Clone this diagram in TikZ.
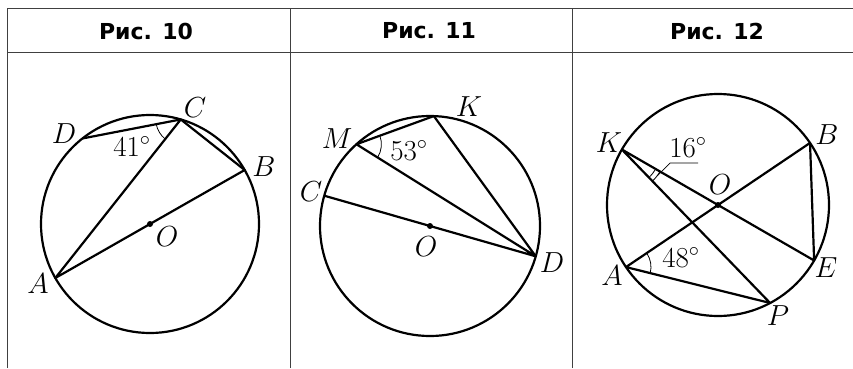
\RequirePackage{fix-cm}
\documentclass[tikz,border=0pt]{standalone}
\usepackage{fontspec}
\newfontfamily\headfont{DejaVu Sans}
\usetikzlibrary{calc}
\usetikzlibrary{angles}

\begin{document}
\begin{tikzpicture}[x=1pt, y=1pt,
    fig/.style={line width=2.2pt, line join=round},
    lbl/.style={font=\fontsize{29}{34}\selectfont, inner sep=0pt},
    arcmark/.style={draw, line width=0.8pt},
    head/.style={font=\headfont\bfseries\fontsize{22}{26}\selectfont, inner sep=0pt}]

\useasboundingbox (0,0) rectangle (853,368);

% table
\def\tabtop{360}
\def\headbot{316}

%lignes
\draw[line width=0.7pt, black!75] (7,\tabtop) -- (853,\tabtop);
\draw[line width=0.7pt, black!75] (7,\headbot) -- (853,\headbot);

%colonnes
\foreach \x in {7,290,572} {
    \draw[line width=0.7pt, black!75] (\x,0) -- (\x,\tabtop);
}

\node[head] (h10) at (146,337) {Рис. 10};
\node[head] (h11) at (429,337) {Рис. 11};
\node[head] (h12) at (717,337) {Рис. 12};

% Рис. 10
\def\ra{109pt}
\coordinate (O1) at (150,144);
\coordinate (A1) at ($(O1)+(209.7:\ra)$);
\coordinate (B1) at ($(O1)+(29.7:\ra)$);
\coordinate (C1) at ($(O1)+(73.6:\ra)$);
\coordinate (D1) at ($(O1)+(128.3:\ra)$);

\draw[fig] (O1) circle (\ra);
\draw[fig] (D1) -- (C1) -- (A1) -- (B1) -- (C1);
\fill (O1) circle (3pt);
\pic[arcmark, angle radius=25pt] {angle=D1--C1--A1};

\node[lbl] (lA1) at (38,84) {$A$};
\node[lbl] (lB1) at (264,201) {$B$};
\node[lbl] (lC1) at (195,260.5) {$C$};
\node[lbl] (lD1) at (64,234.5) {$D$};
\node[lbl] (lO1) at (167,131) {$O$};
\node[lbl, anchor=base] (a41) at (132,212) {$41^\circ$};

% Рис. 11
\def\rb{110pt}
\coordinate (O2) at (430,142);
\coordinate (K2) at ($(O2)+(88:\rb)$);
\coordinate (M2) at ($(O2)+(132:\rb)$);
\coordinate (C2) at ($(O2)+(164:\rb)$);
\coordinate (D2) at ($(O2)+(-16:\rb)$);

\draw[fig] (O2) circle (\rb);
\draw[fig] (D2) -- (M2) -- (K2) -- (D2) -- (C2);
\fill (O2) circle (3pt);
\pic[arcmark, angle radius=25pt] {angle=D2--M2--K2};

\node[lbl] (lK2) at (469,261) {$K$};
\node[lbl] (lM2) at (337,229) {$M$};
\node[lbl] (lC2) at (311,176) {$C$};
\node[lbl] (lD2) at (552,105) {$D$};
\node[lbl] (lO2) at (426,121) {$O$};
\node[lbl, anchor=base] (a53) at (409,208) {$53^\circ$};

% Рис. 12
\def\rc{111pt}
\coordinate (O3) at (718,163);
\coordinate (K3) at ($(O3)+(150:\rc)$);
\coordinate (E3) at ($(O3)+(-30:\rc)$);
\coordinate (B3) at ($(O3)+(34:\rc)$);
\coordinate (A3) at ($(O3)+(214:\rc)$);
\coordinate (P3) at ($(O3)+(-62:\rc)$);

\draw[fig] (O3) circle (\rc);
\draw[fig] (K3) -- (E3) -- (B3) -- (A3) -- (P3) -- (K3);
\fill (O3) circle (3pt);
\pic[arcmark, angle radius=25pt] {angle=P3--A3--B3};
\pic[arcmark, angle radius=39pt] {angle=P3--K3--E3};
\pic[arcmark, angle radius=44pt] {angle=P3--K3--E3};

% renvoi 16
\coordinate (L1) at ($(K3)+(-37:44pt)$);
\coordinate (L2) at (670,205);
\coordinate (L3) at (698,205);
\draw[line width=0.7pt] (L1) -- (L2) -- (L3);

\node[lbl] (lK3) at (609,225) {$K$};
\node[lbl] (lB3) at (827,233) {$B$};
\node[lbl] (lO3) at (720,183) {$O$};
\node[lbl] (lA3) at (612,92) {$A$};
\node[lbl] (lE3) at (826,100) {$E$};
\node[lbl] (lP3) at (778,52) {$P$};
\node[lbl, anchor=base] (a16) at (688,211) {$16^\circ$};
\node[lbl, anchor=base] (a48) at (681,101) {$48^\circ$};

\end{tikzpicture}
\end{document}
